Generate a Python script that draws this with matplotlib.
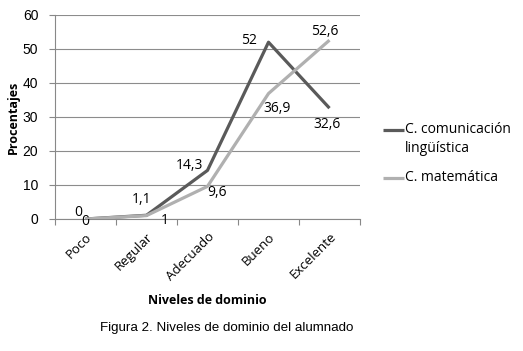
import matplotlib
matplotlib.use("Agg")
import matplotlib.pyplot as plt
from matplotlib.lines import Line2D

categories = ["Poco", "Regular", "Adecuado", "Bueno", "Excelente"]
comunicacion = [0, 1.1, 14.3, 52, 32.6]
matematica = [0, 1, 9.6, 36.9, 52.6]
labels_com = ["0", "1,1", "14,3", "52", "32,6"]
labels_mat = ["0", "1", "9,6", "36,9", "52,6"]
yticks = [0, 10, 20, 30, 40, 50, 60]
series_names = ["C. comunicación\nlingüística", "C. matemática"]

dark = "#5a5a5a"
light = "#b0b0b0"
sans = ["Liberation Sans", "DejaVu Sans"]
cal = ["Open Sans", "DejaVu Sans"]

W, H = 523, 351
fig = plt.figure(figsize=(W/100, H/100), dpi=100)
ax = fig.add_axes([55/W, 1-219/H, 305/W, 204/H])
x = list(range(len(categories)))
ax.plot(x, comunicacion, color=dark, lw=2.3, solid_capstyle="butt", zorder=3)
ax.plot(x, matematica, color=light, lw=2.3, solid_capstyle="butt", zorder=4)

ax.set_xlim(-0.5, 4.5)
ax.set_ylim(0, 60)
ax.set_yticks(yticks)
ax.set_yticklabels([str(v) for v in yticks], fontfamily=sans, fontsize=10)
ax.yaxis.grid(True, color="#8c8c8c", lw=0.8)
ax.set_axisbelow(True)
ax.set_xticks([i - 0.5 for i in range(len(categories) + 1)], minor=False)
ax.set_xticklabels([])
ax.set_xticks(x, minor=True)
ax.set_xticklabels(categories, minor=True, rotation=45, ha="right", va="top",
                   rotation_mode="anchor", fontfamily=cal, fontsize=9.5)
ax.tick_params(axis="x", which="minor", length=0, pad=8)
ax.tick_params(axis="x", which="major", length=4, color="#888888", direction="out")
ax.tick_params(axis="y", length=4, color="#888888", direction="out", pad=8)
for s in ["top", "right"]:
    ax.spines[s].set_visible(False)
ax.spines["left"].set_color("#888888")
ax.spines["bottom"].set_color("#888888")

ax.set_ylabel("Procentajes", fontfamily=cal, fontsize=9, fontweight="bold", labelpad=2)
ax.set_xlabel("Niveles de dominio", fontfamily=cal, fontsize=9, fontweight="bold", labelpad=8)

off_com = [(-5, 5), (-3.6, 11.5), (-13, 3.6), (-14, 1.5), (-1.5, -12)]
off_mat = [(0, -1.5), (13, -3.6), (7, -4.3), (6.5, -11), (-3.6, 6)]
for i in x:
    ax.annotate(labels_com[i], (i, comunicacion[i]), xytext=off_com[i], textcoords="offset points",
                ha="center", va="center", fontfamily=cal, fontsize=10, annotation_clip=False)
    ax.annotate(labels_mat[i], (i, matematica[i]), xytext=off_mat[i], textcoords="offset points",
                ha="center", va="center", fontfamily=cal, fontsize=10, annotation_clip=False)

# legend drawn manually (handle aligned with first text line)
for color, ypix, name in [(dark, 130, series_names[0]), (light, 178, series_names[1])]:
    fig.add_artist(Line2D([383/W, 404/W], [1-ypix/H, 1-ypix/H], color=color, lw=2.3,
                          solid_capstyle="butt"))
    fig.text(405/W, 1-(ypix-8)/H, name, ha="left", va="top", fontfamily=cal, fontsize=10,
             linespacing=1.35)

fig.text(227/W, 1-328.5/H, "Figura 2. Niveles de dominio del alumnado", ha="center", va="center",
         fontfamily=sans, fontsize=9.6)

fig.savefig("out.png", dpi=100)
